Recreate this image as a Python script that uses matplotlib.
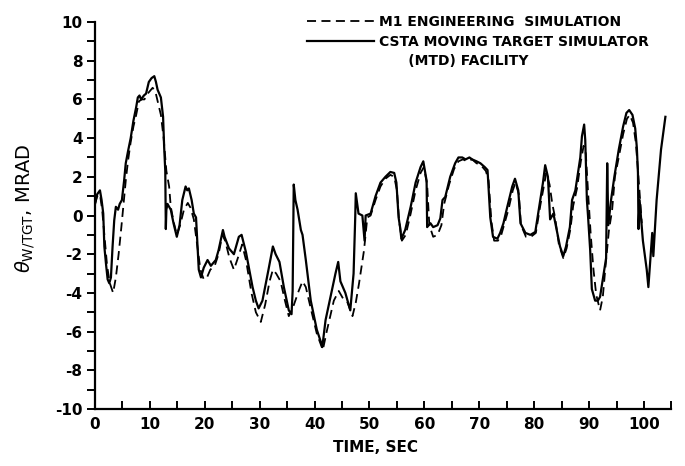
import numpy as np
import matplotlib
matplotlib.use("Agg")
import matplotlib.pyplot as plt
from matplotlib.lines import Line2D

# CSTA moving target simulator (MTD) facility - solid line
mtd_time = [0.0, 0.4, 0.9, 1.2, 1.5, 1.7, 2.0, 2.3, 2.6, 2.9, 3.2, 3.5, 3.8, 4.2, 4.5, 4.9,
            5.3, 5.6, 6.0, 6.5, 7.0, 7.5, 7.8, 8.1, 8.4, 8.9, 9.3, 9.8, 10.3, 10.8, 11.1, 11.4,
            12.0, 12.4, 12.6, 12.8, 12.9, 13.0, 13.2, 13.8, 14.3, 14.9, 15.4, 15.9, 16.5, 16.8,
            17.1, 17.6, 18.0, 18.4, 18.9, 19.3, 19.8, 20.5, 21.1, 22.0, 22.5, 23.3, 23.6, 24.4,
            25.3, 26.2, 26.7, 27.5, 28.7, 29.3, 29.8, 30.5, 31.6, 32.4, 32.9, 33.6, 34.4, 35.3,
            35.8, 36.0, 36.2, 36.5, 36.9, 37.5, 37.8, 38.4, 39.3, 40.4, 41.1, 41.4, 42.0, 42.9,
            43.8, 44.3, 44.7, 45.6, 46.5, 47.1, 47.4, 47.5, 48.0, 48.7, 49.1, 49.3, 50.2, 51.1,
            52.0, 52.9, 53.8, 54.5, 54.9, 55.3, 55.6, 55.8, 56.5, 57.5, 58.4, 59.3, 59.8, 60.4,
            60.5, 61.1, 61.6, 62.4, 62.9, 63.3, 63.8, 64.7, 65.6, 66.2, 66.9, 67.5, 68.2, 68.7,
            69.5, 70.2, 71.0, 71.5, 72.0, 72.5, 73.3, 73.8, 74.4, 75.1, 76.0, 76.5, 77.1, 77.5,
            78.4, 79.3, 80.2, 81.1, 81.6, 82.0, 82.5, 82.9, 83.5, 84.0, 84.7, 85.3, 85.8, 86.5,
            86.9, 87.5, 88.4, 88.7, 89.1, 89.3, 89.6, 89.8, 90.2, 90.5, 91.1, 91.6, 92.0, 92.5,
            93.1, 93.3, 93.5, 94.0, 94.6, 95.4, 96.2, 96.8, 97.3, 97.9, 98.4, 98.7, 98.9, 99.0,
            99.2, 99.8, 100.5, 100.8, 101.5, 101.7, 102.3, 103.1, 103.9]
mtd_theta = [0.6, 1.1, 1.3, 0.8, 0.1, -1.6, -2.5, -3.3, -3.5, -3.2, -1.6, -0.25, 0.45, 0.3, 0.6, 0.8,
             1.8, 2.7, 3.3, 4.0, 4.9, 5.6, 6.1, 6.2, 6.0, 6.2, 6.3, 6.9, 7.1, 7.2, 6.9, 6.5,
             6.1, 5.1, 3.5, 2.3, -0.7, 0.3, 0.6, 0.3, -0.4, -1.1, -0.5, 0.8, 1.5, 1.3,
             1.4, 0.8, 0.1, -0.1, -2.8, -3.2, -2.7, -2.3, -2.6, -2.3, -1.8, -0.75, -1.1, -1.7,
             -2.0, -1.1, -1.0, -1.9, -3.7, -4.4, -4.8, -4.4, -2.8, -1.6, -2.0, -2.4, -3.7, -4.9,
             -5.1, -3.9, 1.6, 0.8, 0.3, -0.75, -1.0, -2.3, -4.4, -5.9, -6.5, -6.8, -5.4, -4.2,
             -3.0, -2.4, -3.4, -4.0, -4.9, -3.0, -0.1, 1.15, 0.1, 0.0, -1.3, 0.0, 0.1, 1.0,
             1.7, 2.0, 2.25, 2.2, 1.7, -0.1, -0.65, -1.2, -0.75, 0.45, 1.7, 2.5, 2.8, 1.8,
             -0.6, -0.4, -0.6, -0.5, -0.15, 0.8, 0.96, 2.0, 2.7, 3.0, 3.0, 2.9, 3.0, 2.9,
             2.8, 2.7, 2.5, 2.35, -0.1, -1.1, -1.2, -0.9, -0.4, 0.45, 1.5, 1.9, 1.3, -0.4,
             -0.9, -1.0, -0.85, 0.8, 1.7, 2.6, 2.0, -0.2, 0.1, -0.6, -1.6, -2.1, -1.6, -0.6,
             0.8, 1.3, 3.0, 4.1, 4.7, 3.9, 0.8, 0.0, -1.8, -3.8, -4.4, -4.4, -4.2, -3.3,
             -2.2, 2.7, -0.5, 0.8, 2.0, 3.4, 4.6, 5.3, 5.45, 5.2, 4.5, 3.5, 2.2, -0.7,
             0.8, -1.3, -2.8, -3.7, -0.9, -2.1, 0.8, 3.4, 5.1]

# M1 engineering simulation - dashed line
sim_time = [0.0, 0.4, 0.9, 1.3, 1.7, 2.2, 2.7, 3.3, 3.8, 4.3, 4.8, 5.2, 5.6, 6.0, 6.5, 7.0,
            7.5, 8.0, 8.5, 9.0, 9.6, 10.5, 11.0, 11.5, 12.0, 12.5, 13.0, 13.5, 13.8, 14.3, 14.9,
            15.5, 16.2, 16.9, 17.4, 18.0, 18.6, 19.2, 19.8, 20.4, 21.0, 21.8, 22.5, 23.2, 23.7,
            24.5, 25.3, 25.9, 26.8, 27.5, 28.5, 29.3, 30.2, 31.0, 31.8, 32.4, 33.0, 33.8, 34.6,
            35.3, 36.0, 36.6, 37.1, 37.8, 38.4, 39.3, 40.4, 41.5, 42.2, 43.0, 43.5, 44.4, 45.2,
            46.0, 46.9, 47.5, 48.1, 49.0, 49.6, 50.2, 51.1, 52.0, 52.9, 53.8, 54.5, 55.0, 55.4,
            55.9, 56.6, 57.5, 58.4, 59.3, 59.9, 60.5, 60.9, 61.6, 62.4, 63.1, 63.6, 64.5, 65.4,
            66.2, 67.0, 67.8, 68.7, 69.5, 70.3, 71.2, 71.7, 72.2, 72.7, 73.4, 74.0, 74.6, 75.3,
            76.1, 76.6, 77.2, 77.6, 78.5, 79.4, 80.3, 81.1, 81.8, 82.2, 82.8, 83.3, 83.8, 84.5,
            85.3, 85.9, 86.6, 87.1, 87.8, 88.5, 89.0, 89.4, 89.9, 90.3, 90.8, 91.3, 92.0, 92.5,
            93.0, 93.6, 94.2, 94.7, 95.4, 96.2, 96.9, 97.4, 98.0, 98.5, 98.9, 99.3, 99.6]
sim_theta = [0.6, 1.0, 1.1, 0.3, -1.0, -2.6, -3.5, -4.0, -3.2, -2.0, -0.6, 0.6, 1.8, 2.8, 3.8, 4.6,
             5.2, 5.9, 6.0, 6.0, 6.3, 6.6, 6.4, 5.8, 5.2, 4.0, 2.3, 1.5, 0.45, -0.3, -1.0,
             -0.5, 0.3, 0.65, 0.4, -0.2, -1.5, -2.8, -3.3, -3.2, -2.8, -2.6, -2.0, -1.0, -1.3,
             -2.2, -2.8, -2.3, -1.5, -2.3, -4.0, -5.0, -5.5, -4.6, -3.4, -2.8, -3.0, -3.4, -4.4,
             -5.2, -4.8, -4.3, -3.9, -3.4, -3.7, -4.8, -6.1, -6.95, -6.0, -5.0, -4.4, -3.9, -4.3,
             -4.5, -5.2, -4.5, -3.5, -1.8, -0.1, 0.0, 0.8, 1.5, 1.9, 2.1, 2.0, 1.3, -0.3,
             -1.3, -1.0, 0.1, 1.3, 2.2, 2.5, 1.6, -0.5, -1.1, -1.0, -0.5, 0.6, 1.6, 2.4,
             2.8, 2.9, 2.8, 2.9, 2.7, 2.6, 2.3, 1.8, -0.3, -1.3, -1.3, -1.0, -0.4, 0.3,
             1.3, 1.7, 1.1, -0.5, -1.1, -1.1, -0.9, 0.5, 1.6, 2.2, 1.6, 0.6, -0.1, -1.5,
             -2.2, -1.7, -0.7, 0.5, 1.4, 2.8, 3.6, 3.2, 0.8, -1.0, -2.8, -4.1, -4.9, -4.2,
             -2.6, -0.8, 0.3, 2.0, 3.0, 4.2, 5.0, 5.2, 4.8, 3.8, 2.35, 0.8, -0.4]

x_ticks = [0, 10, 20, 30, 40, 50, 60, 70, 80, 90, 100]
y_ticks = [-10, -8, -6, -4, -2, 0, 2, 4, 6, 8, 10]

plt.rcParams['font.family'] = ['DejaVu Sans']
plt.rcParams['axes.unicode_minus'] = False

fig = plt.figure(figsize=(6.85, 4.66), dpi=100)
ax = fig.add_axes([0.1387, 0.1223, 0.8415, 0.8305])

ax.plot(sim_time, sim_theta, color='black', lw=1.3, linestyle=(0, (5, 3)))
ax.plot(mtd_time, mtd_theta, color='black', lw=1.6)

ax.set_xlim(0, 105)
ax.set_ylim(-10, 10)
ax.spines['top'].set_visible(False)
ax.spines['right'].set_visible(False)
ax.spines['left'].set_linewidth(1.6)
ax.spines['bottom'].set_linewidth(1.6)

ax.set_xticks(x_ticks)
ax.set_xticks(np.arange(0, 106, 5), minor=True)
ax.set_yticks(y_ticks)
ax.set_yticks(np.arange(-10, 11, 1), minor=True)
ax.tick_params(axis='x', which='both', direction='in', length=6, width=1.4, labelsize=11, pad=6)
ax.tick_params(axis='y', which='both', direction='out', length=6, width=1.4, labelsize=11, pad=3)
for lab in ax.get_xticklabels() + ax.get_yticklabels():
    lab.set_fontweight('bold')

ax.set_xlabel('TIME, SEC', fontsize=11, fontweight='bold', labelpad=4)
ax.xaxis.set_label_coords(0.486, -0.08)
ax.set_ylabel(r'$\theta_{\mathregular{W/TGT}}$, MRAD', fontsize=14)
ax.yaxis.set_label_coords(-0.1, 0.52)

handles = [Line2D([], [], color='black', lw=1.3, linestyle=(0, (5, 3))),
           Line2D([], [], color='black', lw=1.6),
           Line2D([], [], color='none')]
labels = ['M1 ENGINEERING  SIMULATION',
          'CSTA MOVING TARGET SIMULATOR',
          '      (MTD) FACILITY']
fig.legend(handles, labels, loc='upper left', bbox_to_anchor=(0.438, 0.982),
           frameon=False, handlelength=4.8, handletextpad=0.4, labelspacing=0.4,
           borderpad=0, prop={'size': 10, 'weight': 'bold'})

fig.savefig('out.png', dpi=100)
